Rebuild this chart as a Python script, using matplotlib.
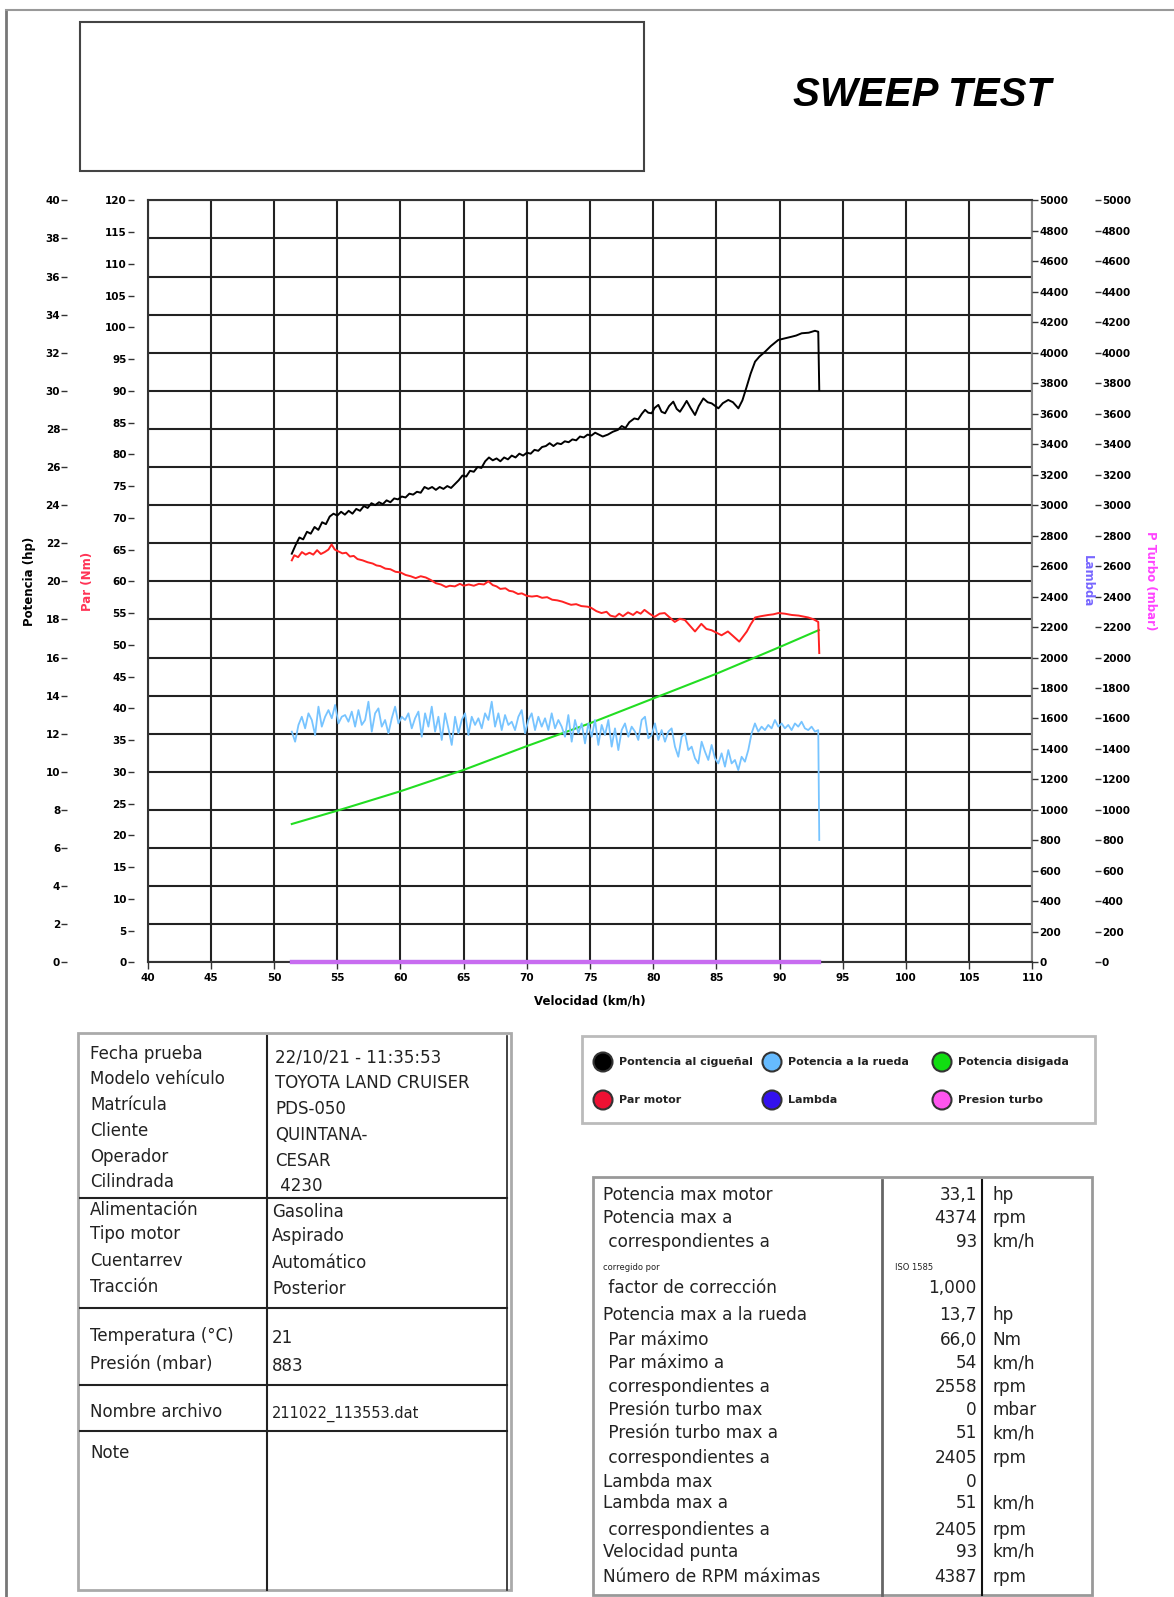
import matplotlib
matplotlib.use("Agg")
import matplotlib.pyplot as plt
import numpy as np
from matplotlib.patches import Rectangle, Circle

W, H = 1174, 1597

# Potencia al cigueñal (hp)
motor_kmh = [51.4, 51.7, 52.0, 52.3, 52.6, 52.9, 53.2, 53.5, 53.8, 54.1, 54.4, 54.7, 55.0, 55.3,
             55.6, 55.9, 56.2, 56.5, 56.8, 57.1, 57.4, 57.7, 58.0, 58.3, 58.6, 58.9, 59.2, 59.5,
             59.8, 60.1, 60.4, 60.7, 61.0, 61.3, 61.6, 61.9, 62.2, 62.5, 62.8, 63.1, 63.4, 63.7,
             64.0, 64.3, 64.6, 64.9, 65.2, 65.5, 65.8, 66.1, 66.4, 66.7, 67.0, 67.3, 67.6, 67.9,
             68.2, 68.5, 68.8, 69.1, 69.4, 69.7, 70.0, 70.3, 70.6, 70.9, 71.2, 71.5, 71.8, 72.1,
             72.4, 72.7, 73.0, 73.3, 73.6, 73.9, 74.2, 74.5, 74.8, 75.1, 75.4, 75.7, 76.0, 76.4,
             76.8, 77.2, 77.5, 77.8, 78.1, 78.5, 78.8, 79.1, 79.35, 79.6, 79.87, 80.1, 80.4, 80.65,
             80.93, 81.25, 81.58, 81.85, 82.11, 82.4, 82.64, 82.95, 83.3, 83.6, 83.96, 84.3, 84.62,
             85.15, 85.5, 85.93, 86.3, 86.73, 87.05, 87.39, 87.7, 88.05, 88.4, 88.84, 89.3, 89.89,
             90.4, 90.95, 91.3, 91.74, 92.3, 92.79, 93.05, 93.13]
motor_hp = [21.45, 21.9, 22.3, 22.2, 22.6, 22.5, 22.85, 22.7, 23.1, 23.0, 23.4, 23.55, 23.45, 23.65,
            23.5, 23.7, 23.55, 23.8, 23.7, 23.95, 23.85, 24.1, 24.0, 24.15, 24.05, 24.25, 24.15, 24.35,
            24.3, 24.45, 24.4, 24.6, 24.55, 24.7, 24.65, 24.95, 24.85, 24.95, 24.8, 24.95, 24.85, 25.0,
            24.9, 25.1, 25.3, 25.55, 25.5, 25.8, 25.75, 26.0, 25.95, 26.3, 26.5, 26.35, 26.45, 26.3,
            26.5, 26.4, 26.6, 26.5, 26.7, 26.6, 26.75, 26.7, 26.9, 26.85, 27.05, 27.1, 27.25, 27.1,
            27.25, 27.2, 27.35, 27.3, 27.45, 27.4, 27.6, 27.55, 27.7, 27.65, 27.8, 27.7, 27.6, 27.7,
            27.85, 27.95, 28.15, 28.05, 28.35, 28.55, 28.5, 28.8, 29.0, 28.85, 28.82, 29.1, 29.26, 28.9,
            28.82, 29.2, 29.43, 29.05, 28.9, 29.2, 29.47, 29.1, 28.73, 29.2, 29.6, 29.4, 29.34,
            29.08, 29.35, 29.52, 29.4, 29.08, 29.5, 30.22, 30.9, 31.53, 31.8, 32.05, 32.35, 32.67,
            32.75, 32.84, 32.9, 33.02, 33.05, 33.15, 33.1, 30.04]

# Par motor (Nm)
par_kmh = [51.4, 51.6, 51.9, 52.2, 52.5, 52.8, 53.1, 53.4, 53.7, 54.0, 54.3, 54.55, 54.8, 55.1,
           55.4, 55.7, 56.0, 56.3, 56.6, 57.0, 57.4, 57.8, 58.1, 58.4, 58.8, 59.2, 59.6, 60.0,
           60.4, 60.8, 61.2, 61.6, 62.0, 62.4, 62.8, 63.2, 63.6, 63.9, 64.3, 64.7, 65.0, 65.4,
           65.8, 66.2, 66.6, 66.95, 67.3, 67.6, 67.9, 68.3, 68.6, 68.9, 69.3, 69.6, 70.0, 70.4,
           70.8, 71.2, 71.6, 72.0, 72.4, 72.8, 73.2, 73.5, 73.9, 74.3, 74.8, 75.1, 75.5, 75.9,
           76.3, 76.6, 77.0, 77.3, 77.6, 78.0, 78.4, 78.7, 79.0, 79.3, 79.7, 80.1, 80.5, 80.9,
           81.3, 81.7, 82.1, 82.5, 82.9, 83.3, 83.8, 84.2, 84.6, 85.0, 85.4, 85.9, 86.3, 86.8,
           87.1, 87.4, 87.7, 88.05, 88.5, 89.1, 89.5, 89.9, 90.4, 90.95, 91.5, 92.26, 92.7, 93.05, 93.13]
par_nm = [63.3, 64.1, 63.8, 64.6, 64.2, 64.5, 64.2, 64.9, 64.3, 64.6, 65.0, 65.8, 65.0, 64.7,
          64.4, 64.5, 63.9, 64.0, 63.5, 63.3, 63.0, 62.8, 62.5, 62.4, 62.0, 61.9, 61.5, 61.4,
          61.0, 60.8, 60.5, 60.8, 60.6, 60.2, 59.7, 59.5, 59.1, 59.3, 59.2, 59.6, 59.3, 59.5,
          59.3, 59.6, 59.5, 60.0, 59.4, 59.2, 58.8, 58.9, 58.5, 58.4, 58.0, 58.1, 57.7, 57.6,
          57.7, 57.4, 57.5, 57.1, 57.0, 56.8, 56.5, 56.3, 56.4, 56.1, 56.0, 55.8, 55.3, 55.0,
          55.2, 54.6, 54.4, 54.9, 54.5, 55.1, 54.7, 55.2, 54.9, 55.5, 54.9, 54.4, 54.9, 55.0,
          54.3, 53.6, 54.1, 53.9, 53.0, 52.1, 53.3, 52.5, 52.3, 51.9, 51.5, 52.1, 51.4, 50.5,
          51.3, 52.1, 53.2, 54.3, 54.5, 54.7, 54.8, 55.0, 54.9, 54.7, 54.6, 54.3, 54.0, 53.6, 48.7]

# Potencia a la rueda (hp), muestreo regular 51.4 -> 93.05 km/h y caida final
rueda_hp = [12.11, 11.58, 12.46, 12.89, 12.28, 13.07, 12.72, 11.93, 13.42, 12.37,
            12.89, 13.24, 12.81, 13.51, 12.54, 12.89, 12.98, 12.63, 13.16, 12.37,
            13.24, 12.46, 12.72, 13.68, 12.11, 13.07, 13.33, 12.37, 12.72, 12.02,
            12.81, 13.42, 12.54, 12.89, 12.72, 13.07, 12.28, 12.81, 13.16, 11.84,
            13.07, 12.37, 13.42, 12.11, 12.89, 11.67, 13.07, 12.28, 11.41, 12.89,
            12.02, 12.72, 13.07, 11.93, 12.89, 12.46, 12.81, 12.28, 13.07, 12.72,
            13.68, 12.37, 13.07, 12.19, 12.98, 12.46, 12.63, 12.19, 12.89, 13.24,
            12.02, 12.72, 13.07, 12.19, 12.89, 12.37, 12.81, 12.19, 13.07, 12.28,
            12.72,
            12.37, 11.84, 12.98, 11.58, 12.72, 12.02, 12.54, 11.49, 12.54, 11.84,
            12.72, 11.41, 12.46, 11.93, 12.72, 11.32, 12.28, 11.14, 12.19, 12.54,
            11.84, 12.37, 12.11, 11.67, 12.72, 12.89, 11.76, 11.93, 12.54, 11.67,
            12.19, 11.58, 12.11, 12.28, 11.32, 10.79, 11.84, 12.02, 11.14, 11.32,
            10.71, 10.44, 11.58, 11.06, 10.62, 11.41, 10.71, 10.44, 10.97, 10.27,
            11.14, 10.44, 10.62, 10.09, 10.79, 10.53, 11.14, 12.02, 12.54, 12.11,
            12.37, 12.19, 12.46, 12.28, 12.72, 12.37, 12.54, 12.28, 12.46, 12.19,
            12.54, 12.37, 12.63, 12.28, 12.19, 12.37, 12.11, 12.19,
            6.42]
rueda_kmh = np.append(np.linspace(51.4, 93.05, len(rueda_hp) - 1), 93.13)

# Potencia disipada (hp)
disip_kmh = [51.4, 55, 60, 65, 70, 75, 80, 85, 90, 93.1]
disip_hp = [7.26, 7.96, 8.98, 10.1, 11.35, 12.55, 13.85, 15.15, 16.55, 17.44]

# Lambda y presion turbo (todo a cero)
cero_kmh = [51.4, 93.1]
lambda_val = [0, 0]
turbo_mbar = [0, 0]

ficha_labels = ["Fecha prueba", "Modelo vehículo", "Matrícula", "Cliente", "Operador",
                "Cilindrada", "Alimentación", "Tipo motor", "Cuentarrev", "Tracción",
                "Temperatura (°C)", "Presión (mbar)", "Nombre archivo", "Note"]
ficha_values = ["22/10/21 - 11:35:53", "TOYOTA LAND CRUISER", "PDS-050", "QUINTANA-",
                "CESAR", " 4230", "Gasolina", "Aspirado", "Automático", "Posterior",
                "21", "883", "211022_113553.dat", ""]

res_labels = ["Potencia max motor", "Potencia max a", " correspondientes a", "corregido por",
              " factor de corrección", "Potencia max a la rueda", " Par máximo", " Par máximo a",
              " correspondientes a", " Presión turbo max", " Presión turbo max a",
              " correspondientes a", "Lambda max", "Lambda max a", " correspondientes a",
              "Velocidad punta", "Número de RPM máximas"]
res_values = ["33,1", "4374", "93", "ISO 1585", "1,000", "13,7", "66,0", "54", "2558", "0",
              "51", "2405", "0", "51", "2405", "93", "4387"]
res_units = ["hp", "rpm", "km/h", "", "", "hp", "Nm", "km/h", "rpm", "mbar", "km/h", "rpm",
             "", "km/h", "rpm", "km/h", "rpm"]

leyenda = ["Pontencia al cigueñal", "Potencia a la rueda", "Potencia disigada",
           "Par motor", "Lambda", "Presion turbo"]
colores = ["#000000", "#66bbff", "#11dd11", "#ee1133", "#3311ee", "#ff55ee"]

plt.rcParams['font.family'] = ['DejaVu Sans']

fig = plt.figure(figsize=(W / 100, H / 100), dpi=100)
fig.patch.set_facecolor("white")

# capa de fondo en pixeles para cajas y tablas
bg = fig.add_axes([0, 0, 1, 1])
bg.set_xlim(0, W)
bg.set_ylim(H, 0)
bg.axis("off")

bg.plot([6, 6], [10, H], color="#777777", lw=2)
bg.plot([6, W], [10, 10], color="#999999", lw=1.5)
bg.add_patch(Rectangle((80, 22), 564, 149, fill=False, ec="#444444", lw=1.5))
bg.text(922, 95, "SWEEP TEST", fontsize=29, fontweight="bold", style="italic",
        family="Liberation Sans", ha="center", va="center")

# --- grafico ---
L, R, T, B = 147.7, 1032.5, 200.3, 962.3
ax = fig.add_axes([L / W, 1 - B / H, (R - L) / W, (B - T) / H])
ax.set_xlim(40, 110)
ax.set_ylim(0, 40)
ax.set_xticks(range(40, 111, 5))
ax.set_yticks(range(0, 41, 2))
ax.grid(True, color="#222222", lw=1.5)
ax.set_axisbelow(True)
ax.tick_params(axis="x", length=5, width=1, labelsize=7.5, pad=3, color="#333333")
for s in ax.spines.values():
    s.set_color("#333333")
    s.set_linewidth(1.5)
ax.spines["right"].set_color("#888888")

ax.plot(disip_kmh, disip_hp, color="#22dd22", lw=1.5, zorder=3)
ax.plot(rueda_kmh, rueda_hp, color="#77c4ff", lw=1.3, zorder=3)
ax.plot(motor_kmh, motor_hp, color="black", lw=1.4, zorder=4)

ax_hp = ax.twinx()
ax_hp.set_ylim(0, 40)
ax_hp.set_yticks(range(0, 41, 2))
ax_hp.yaxis.set_ticks_position("left")
ax_hp.spines["left"].set_position(("outward", 58))

ax_par = ax.twinx()
ax_par.set_ylim(0, 120)
ax_par.set_yticks(range(0, 121, 5))
ax_par.yaxis.set_ticks_position("left")
ax_par.spines["left"].set_position(("outward", 10))
ax_par.plot(par_kmh, par_nm, color="#ff2222", lw=1.4)

ax_lam = ax.twinx()
ax_lam.set_ylim(0, 5000)
ax_lam.set_yticks(range(0, 5001, 200))
ax_lam.plot(cero_kmh, lambda_val, color="#7744ee", lw=3, clip_on=False)

ax_tur = ax.twinx()
ax_tur.set_ylim(0, 5000)
ax_tur.set_yticks(range(0, 5001, 200))
ax_tur.spines["right"].set_position(("outward", 45))
ax_tur.plot(cero_kmh, turbo_mbar, color="#c86cf0", lw=3, clip_on=False)

for a in [ax_hp, ax_par, ax_lam, ax_tur]:
    for s in a.spines.values():
        s.set_visible(False)
    a.tick_params(axis="y", length=4, width=1, labelsize=7.5, pad=1, color="#333333")
    for lab in a.get_yticklabels():
        lab.set_fontweight("bold")
    a.set_facecolor("none")
for lab in ax.get_xticklabels():
    lab.set_fontweight("bold")

# twinx vuelve a activar los ticks izquierdos del eje principal
ax.tick_params(axis="y", left=False, right=False, labelleft=False, labelright=False)

fig.text(590 / W, 1 - 1001 / H, "Velocidad (km/h)", fontsize=8.5, fontweight="bold",
         ha="center", va="center")
fig.text(30 / W, 1 - 581 / H, "Potencia (hp)", fontsize=8.5, fontweight="bold", rotation=90,
         ha="center", va="center")
fig.text(88 / W, 1 - 581 / H, "Par (Nm)", fontsize=8.5, fontweight="bold", rotation=90,
         color="#ff3355", ha="center", va="center")
fig.text(1087 / W, 1 - 581 / H, "Lambda", fontsize=8.5, fontweight="bold", rotation=-90,
         color="#7766ff", ha="center", va="center")
fig.text(1151 / W, 1 - 581 / H, "P Turbo (mbar)", fontsize=8.5, fontweight="bold", rotation=-90,
         color="#ff44ff", ha="center", va="center")

# --- tabla ficha ---
bg.add_patch(Rectangle((78, 1033), 433, 557, fill=False, ec="#aaaaaa", lw=2))
bg.plot([507, 507], [1036, 1590], color="#222222", lw=1.2)
bg.plot([267, 267], [1036, 1590], color="#222222", lw=1.5)
for yl in [1198, 1308, 1385, 1431]:
    bg.plot([80, 507], [yl, yl], color="#222222", lw=1.5)

ficha_y = [1054, 1079, 1105, 1131, 1157, 1182, 1210, 1234, 1261, 1287, 1336, 1364, 1412, 1453]
for i in range(len(ficha_labels)):
    bg.text(90, ficha_y[i], ficha_labels[i], fontsize=12, va="center", color="#222222")
    dy = 4 if i < 6 else 2
    vx = 275 if i < 6 else 272
    fs = 10.5 if i == 12 else 12
    bg.text(vx, ficha_y[i] + dy, ficha_values[i], fontsize=fs, va="center", color="#222222")

# --- leyenda ---
bg.add_patch(Rectangle((582, 1036), 513, 87, fill=False, ec="#bbbbbb", lw=2))
ley_x = [603, 772, 942]
ley_y = [1062, 1100]
for i in range(6):
    cx = ley_x[i % 3]
    cy = ley_y[i // 3]
    bg.text(cx + 16, cy, leyenda[i], fontsize=8, fontweight="bold", va="center",
            color="#222222")
for i in range(6):
    cx = ley_x[i % 3]
    cy = ley_y[i // 3]
    bg.add_patch(Circle((cx, cy), 9.5, fc=colores[i], ec="#333333", lw=1.5, zorder=5))

# --- tabla resultados ---
bg.add_patch(Rectangle((593, 1177), 499, 418, fill=False, ec="#999999", lw=2))
bg.plot([882, 882], [1180, 1595], color="#666666", lw=2)
bg.plot([982, 982], [1180, 1595], color="#111111", lw=1.5)
res_y = [1195, 1218, 1242, 1267, 1288, 1315, 1340, 1363, 1387, 1410, 1433, 1458, 1482,
         1503, 1530, 1552, 1577]
for i in range(len(res_labels)):
    if res_labels[i] == "corregido por":
        bg.text(603, res_y[i], res_labels[i], fontsize=6, va="center", color="#222222")
        bg.text(895, res_y[i], res_values[i], fontsize=6, va="center", color="#222222")
        continue
    bg.text(603, res_y[i], res_labels[i], fontsize=12.2, va="center", color="#222222")
    bg.text(977, res_y[i], res_values[i], fontsize=12.2, va="center", ha="right", color="#222222")
    bg.text(992, res_y[i], res_units[i], fontsize=12.2, va="center", color="#222222")

fig.savefig("out.png", dpi=100)
